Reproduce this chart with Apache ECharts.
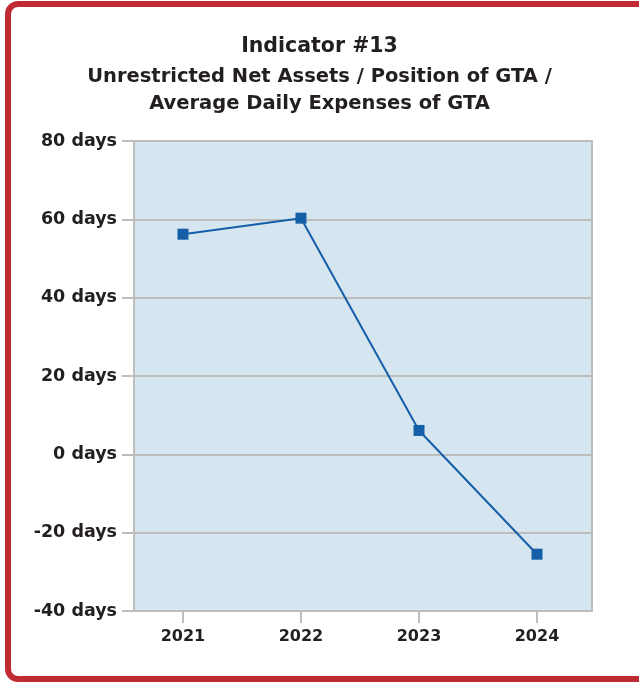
<!DOCTYPE html>
<html>
<head>
<meta charset="utf-8">
<script src="https://cdn.jsdelivr.net/npm/echarts@6/dist/echarts.min.js"></script>
<style>
html,body{margin:0;padding:0;background:#fff;}
#c{width:639px;height:682px;}
</style>
</head>
<body>
<div id="c"></div>
<script>
const years = [2021, 2022, 2023, 2024];
const values = [56.2, 60.3, 6.1, -25.5];
const yTicks = [-40, -20, 0, 20, 40, 60, 80];
const titleMain = 'Indicator #13';
const titleSub = 'Unrestricted Net Assets / Position of GTA /\nAverage Daily Expenses of GTA';

const FONT = 'DejaVu Sans';
const chart = echarts.init(document.getElementById('c'), null, {renderer: 'canvas'});
chart.setOption({
  animation: false,
  backgroundColor: '#ffffff',
  graphic: [{
    type: 'rect',
    shape: {x: 8, y: 4, width: 680, height: 675, r: 10},
    style: {fill: 'none', stroke: '#bf2a33', lineWidth: 6},
    z: 100
  }],
  title: [{
    text: titleMain,
    left: 'center',
    top: 31,
    textStyle: {fontFamily: FONT, fontSize: 20.5, fontWeight: 'bold', color: '#231f20'}
  }, {
    text: titleSub,
    left: 'center',
    top: 58,
    textStyle: {fontFamily: FONT, fontSize: 19.5, fontWeight: 'bold', color: '#231f20', lineHeight: 27}
  }],
  grid: {left: 134, right: 47, top: 141, bottom: 71, show: true, backgroundColor: '#d5e6f0', borderColor: '#bdbdbd', borderWidth: 2},
  xAxis: {
    type: 'value',
    min: 2020.585,
    max: 2024.466,
    axisLine: {show: false, onZero: false},
    splitLine: {show: false},
    axisTick: {show: true, customValues: years, length: 12, lineStyle: {color: '#bdbdbd', width: 2}},
    axisLabel: {customValues: years, formatter: v => String(v), margin: 18, fontFamily: FONT, fontSize: 16, fontWeight: 'bold', color: '#231f20'}
  },
  yAxis: {
    type: 'value',
    min: -40,
    max: 80,
    interval: 20,
    axisLine: {show: false},
    axisTick: {show: true, length: 12, lineStyle: {color: '#bdbdbd', width: 2}},
    splitLine: {show: true, lineStyle: {color: '#bdbdbd', width: 2}},
    axisLabel: {formatter: '{value} days', margin: 17, fontFamily: FONT, fontSize: 17.5, fontWeight: 'bold', color: '#231f20'}
  },
  series: [{
    type: 'line',
    data: years.map((y, i) => [y, values[i]]),
    symbol: 'rect',
    symbolSize: 11,
    lineStyle: {color: '#155ea8', width: 2},
    itemStyle: {color: '#155ea8'}
  }]
});
</script>
</body>
</html>
